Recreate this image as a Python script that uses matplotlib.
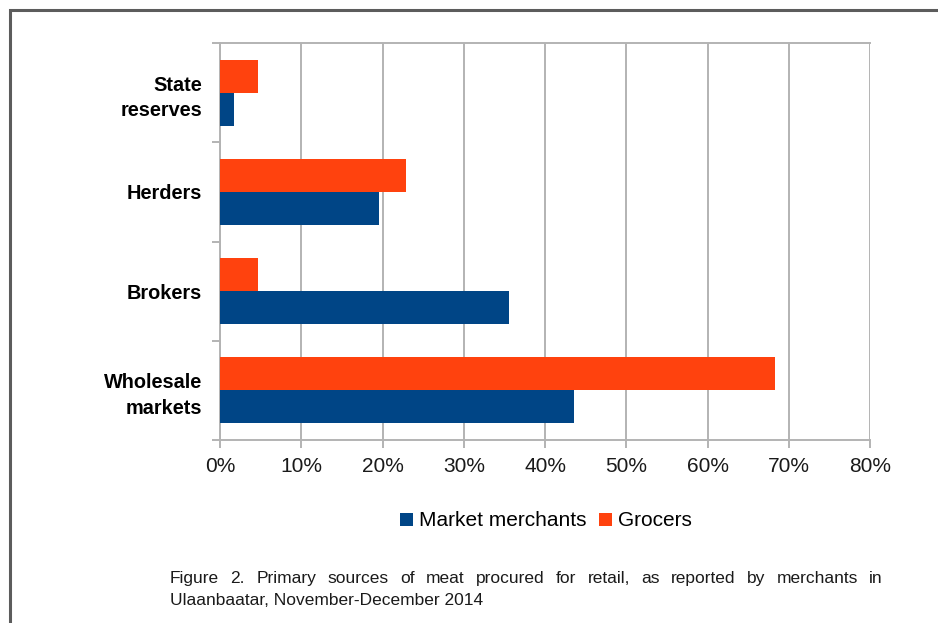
import matplotlib
matplotlib.use("Agg")
import matplotlib.pyplot as plt
from matplotlib.patches import Rectangle, Patch
from matplotlib.ticker import FixedLocator, FuncFormatter

categories = ["Wholesale\nmarkets", "Brokers", "Herders", "State\nreserves"]
market_merchants = [43.6, 35.6, 19.6, 1.7]
grocers = [68.3, 4.7, 22.9, 4.7]
x_ticks = [0, 10, 20, 30, 40, 50, 60, 70, 80]
series_names = ["Market merchants", "Grocers"]
caption_lines = [
    "Figure 2. Primary sources of meat procured for retail, as reported by merchants in",
    "Ulaanbaatar, November-December 2014",
]

BLUE = "#004586"
ORANGE = "#ff420e"
GRID = "#b3b3b3"
FONT = "Liberation Sans"

W, H = 938, 623
fig = plt.figure(figsize=(W / 100, H / 100), dpi=100)
fig.patch.set_facecolor("white")

# outer frame (top and left visible)
fig.patches.append(Rectangle((10 / W, -0.5), 2.0, 0.5 + 1 - 10 / H, transform=fig.transFigure,
                             fill=False, edgecolor="#5c5c5c", linewidth=2.2))

ax = fig.add_axes([220 / W, 1 - 440 / H, 650 / W, 397 / H])
ypos = list(range(len(categories)))
bh = 0.333
ax.barh([y - bh / 2 for y in ypos], market_merchants, height=bh, color=BLUE, zorder=3)
ax.barh([y + bh / 2 for y in ypos], grocers, height=bh, color=ORANGE, zorder=3)

ax.set_xlim(0, 80)
ax.set_ylim(-0.5, len(categories) - 0.5)
ax.set_xticks(x_ticks)
ax.xaxis.set_major_formatter(FuncFormatter(lambda v, p: f"{int(v)}%"))
ax.set_yticks(ypos)
ax.set_yticklabels(categories, fontfamily=FONT, fontweight="bold", fontsize=14.3, ha="right",
                   linespacing=1.45)
ax.yaxis.set_minor_locator(FixedLocator([y - 0.5 for y in ypos] + [len(categories) - 0.5]))
ax.tick_params(axis="y", which="major", length=0, pad=13)
ax.tick_params(axis="y", which="minor", length=6, width=1.4, color=GRID)
ax.tick_params(axis="x", which="major", length=6, width=1.4, color=GRID, pad=6,
               labelsize=15)
for lab in ax.get_xticklabels():
    lab.set_fontfamily(FONT)
    lab.set_color("#1a1a1a")

ax.grid(axis="x", color=GRID, linewidth=1.4, zorder=0)
for s in ax.spines.values():
    s.set_color(GRID)
    s.set_linewidth(1.4)
ax.spines["right"].set_visible(False)

handles = [Patch(facecolor=BLUE, edgecolor="none"), Patch(facecolor=ORANGE, edgecolor="none")]
fig.legend(handles, series_names, loc="center", bbox_to_anchor=(546 / W, 1 - 521 / H),
           ncol=2, frameon=False, prop={"family": FONT, "size": 15},
           handlelength=0.6, handleheight=0.6, handletextpad=0.3, columnspacing=0.6,
           borderpad=0, borderaxespad=0)

# justified caption
renderer = fig.canvas.get_renderer()
cap_left, cap_right = 170, 883
cap_size = 12.5
baselines = [583, 605]
for i, line in enumerate(caption_lines):
    y = 1 - baselines[i] / H
    if i < len(caption_lines) - 1:
        words = line.split(" ")
        texts = [fig.text(0, y, w, fontfamily=FONT, fontsize=cap_size, color="#1a1a1a",
                          va="baseline") for w in words]
        widths = [t.get_window_extent(renderer).width for t in texts]
        gap = (cap_right - cap_left - sum(widths)) / (len(words) - 1)
        x = cap_left
        for t, wd in zip(texts, widths):
            t.set_x(x / W)
            x += wd + gap
    else:
        fig.text(cap_left / W, y, line, fontfamily=FONT, fontsize=cap_size, color="#1a1a1a",
                 va="baseline")

fig.savefig("out.png", dpi=100)
